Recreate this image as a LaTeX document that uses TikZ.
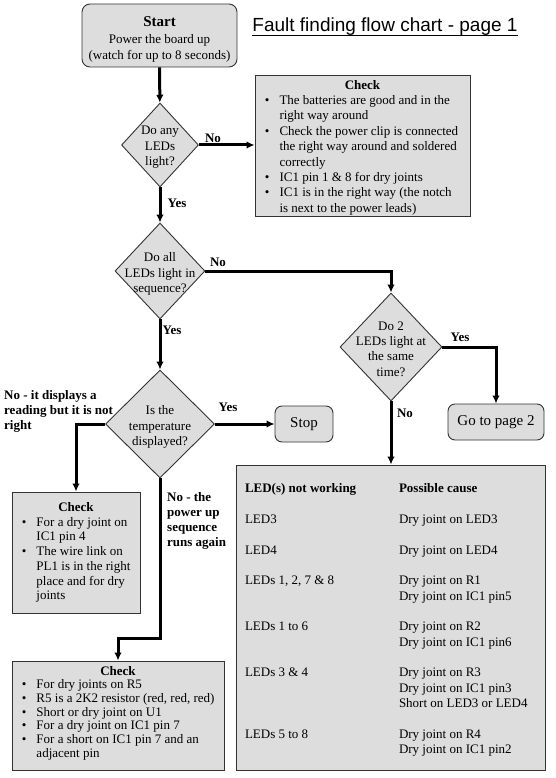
\documentclass[tikz,border=0pt]{standalone}
\usepackage{fontspec}
\setmainfont{Liberation Serif}
\newfontfamily\titlefont{Liberation Sans}
\usetikzlibrary{shapes.geometric,arrows.meta}
\definecolor{boxgray}{HTML}{DDDDDD}
\tikzset{box/.style={draw=black!80,line width=0.9pt,fill=boxgray,inner sep=0pt}}
\tikzset{endbox/.style={box,rounded corners=7pt,font=\fontsize{15}{18}\selectfont}}
\tikzset{decision/.style={box,diamond}}
\tikzset{flow/.style={line width=3pt,-{Latex[length=8pt,width=7.5pt]}}}
\tikzset{answer/.style={font=\fontsize{13}{15}\selectfont\bfseries}}
\newenvironment{checkitems}{\begin{list}{\textbullet}{\setlength\leftmargin{24.5pt}%
  \setlength\labelwidth{6pt}\setlength\labelsep{10pt}\setlength\itemsep{0pt}%
  \setlength\parsep{0pt}\setlength\topsep{0pt}\setlength\partopsep{0pt}}\raggedright}{\end{list}}

\begin{document}
\begin{tikzpicture}[x=1pt,y=-1pt,font=\fontsize{13}{15.4}\selectfont]
	\useasboundingbox (0,0) rectangle (556,778);
	% title top right, underlined by hand
	\node[anchor=base,inner sep=0pt,font=\titlefont\fontsize{19}{22}\selectfont] (title) at (385,32) {Fault finding flow chart - page 1};
	\draw[line width=1.4pt] ([yshift=-3.3pt]title.base west) -- ([yshift=-3.3pt]title.base east);

	% main column of decisions
	\node[box,rounded corners=8pt,minimum width=155,minimum height=63,align=center] (start) at (159.5,35.5)
		{{\rule{0pt}{17.5pt}\fontsize{15}{17}\selectfont\bfseries Start}\\[2pt]Power the board up\\(watch for up to 8 seconds)};
	\node[decision,minimum width=77,minimum height=84] (dany) at (160,145) {};
	\node[align=center] (danytxt) at (160,147.5) {Do any\\LEDs\\light?};
	\node[decision,minimum width=90,minimum height=96] (dall) at (160,271) {};
	\node[align=center] (dalltxt) at (160,274) {Do all\\LEDs light in\\sequence?};
	\node[decision,minimum width=102,minimum height=108] (dtwo) at (391,347) {};
	\node[align=center] (dtwotxt) at (391,349) {Do 2\\LEDs light at\\the same\\time?};
	\node[decision,minimum width=109,minimum height=108] (dtemp) at (160,424) {};
	\node[align=center] (dtemptxt) at (160,427) {Is the\\temperature\\displayed?};

	% end boxes
	\node[endbox,minimum width=58,minimum height=36] (stop) at (304,424) {Stop};
	\node[endbox,minimum width=96,minimum height=36] (page2) at (496,422) {Go to page 2};

	% check boxes
	\node[box,minimum width=215,minimum height=141] (chk1) at (362.5,145.5) {\begin{minipage}{215pt}\setlength\parskip{0pt}
		\vspace*{4pt}
		{\centering\bfseries Check\par}
		\begin{checkitems}
		\item The batteries are good and in the\newline right way around
		\item Check the power clip is connected\newline the right way around and soldered\newline correctly
		\item IC1 pin 1 \& 8 for dry joints
		\item IC1 is in the right way (the notch\newline is next to the power leads)
		\end{checkitems}\end{minipage}};
	\node[box,minimum width=128,minimum height=121] (chk2) at (76,552.5) {\begin{minipage}{128pt}\setlength\parskip{0pt}
		\fontsize{13}{14.7}\selectfont
		{\centering\bfseries Check\par}
		\begin{checkitems}
		\item For a dry joint on\newline IC1 pin 4
		\item The wire link on\newline PL1 is in the right\newline place and for dry\newline joints
		\end{checkitems}\end{minipage}};
	\node[box,minimum width=212,minimum height=109] (chk3) at (118,715.5) {\begin{minipage}{212pt}\setlength\parskip{0pt}
		\fontsize{13}{13.7}\selectfont
		{\centering\bfseries Check\par}
		\begin{checkitems}
		\item For dry joints on R5
		\item R5 is a 2K2 resistor (red, red, red)
		\item Short or dry joint on U1
		\item For a dry joint on IC1 pin 7
		\item For a short on IC1 pin 7 and an\newline adjacent pin
		\end{checkitems}\vspace*{5pt}\end{minipage}};

	% table of faults
	\node[box,minimum width=309,minimum height=305] (ledbox) at (390.5,617.5) {\begin{minipage}{309pt}
		\vspace*{5pt}
		\fontsize{13}{15.35}\selectfont\hspace*{9pt}%
		\begin{tabular}{@{}p{154pt}@{}l@{}}
		\textbf{LED(s) not working} & \textbf{Possible cause}\\[15.35pt]
		LED3 & Dry joint on LED3\\[15.35pt]
		LED4 & Dry joint on LED4\\[15.35pt]
		LEDs 1, 2, 7 \& 8 & Dry joint on R1\\
		 & Dry joint on IC1 pin5\\[15.35pt]
		LEDs 1 to 6 & Dry joint on R2\\
		 & Dry joint on IC1 pin6\\[15.35pt]
		LEDs 3 \& 4 & Dry joint on R3\\
		 & Dry joint on IC1 pin3\\
		 & Short on LED3 or LED4\\[15.35pt]
		LEDs 5 to 8 & Dry joint on R4\\
		 & Dry joint on IC1 pin2
		\end{tabular}\end{minipage}};

	% connectors
	\draw[flow] (start) -- (dany);
	\draw[flow] (dany.east) -- (chk1.west |- dany.east);
	\draw[flow] (dany) -- (dall);
	\draw[flow] (dall.east) -| (dtwo.north);
	\draw[flow] (dtwo.east) -| (page2.north);
	\draw[flow] (dtwo.south) -- (dtwo.south |- ledbox.north);
	\draw[flow] (dall) -- (dtemp);
	\draw[flow] (dtemp.east) -- (stop.west);
	\draw[flow] (dtemp.west) -| (chk2.north);
	\draw[flow] (dtemp.south) -- ++(0,160) -| (chk3.north);

	% answers on the connectors
	\node[answer] (no1) at (213,138) {No};
	\node[answer] (yes1) at (177,203) {Yes};
	\node[answer] (no2) at (218,262) {No};
	\node[answer] (yes2) at (172,330) {Yes};
	\node[answer] (yes3) at (460,337) {Yes};
	\node[answer] (no3) at (405,413) {No};
	\node[answer] (yes4) at (228,407) {Yes};
	\node[answer,anchor=north west,align=left,inner sep=0pt] (wrongnote) at (4,390) {No - it displays a\\reading but it is not\\right};
	\node[answer,anchor=north west,align=left,inner sep=0pt] (rerunnote) at (167,492) {No - the\\power up\\sequence\\runs again};
\end{tikzpicture}
\end{document}
